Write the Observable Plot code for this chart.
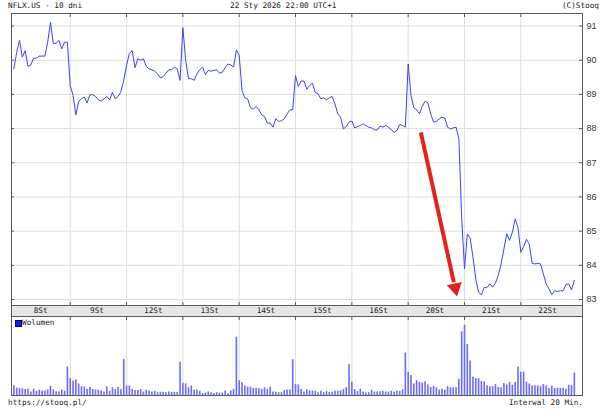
<!DOCTYPE html>
<html><head><meta charset="utf-8">
<script src="https://cdn.jsdelivr.net/npm/d3@7"></script>
<script src="https://cdn.jsdelivr.net/npm/@observablehq/plot@0.6"></script>
<style>
body{margin:0;background:#fff;}
#wrap{position:relative;width:605px;height:416px;background:#fff;overflow:hidden;font-family:"DejaVu Sans Mono",monospace;font-size:7.7px;color:#222;}
.t{position:absolute;white-space:nowrap;line-height:9px;}
.p{position:absolute;left:0;}
svg{display:block;overflow:visible;}
#sq{position:absolute;left:15px;top:320px;width:5px;height:5px;background:#1a1ae6;border:0.5px solid #000066;}
</style></head><body>
<div id="wrap">
  <div class="t" style="left:8px;top:1px">NFLX.US - 10 dni</div>
  <div class="t" style="left:230px;top:1px">22 Sty 2026 22:00 UTC+1</div>
  <div class="t" style="right:6px;top:1px">(C)Stooq</div>
  <div class="p" id="price" style="top:0px"></div>
  <div class="p" id="band" style="top:305px"></div>
  <div class="p" id="vol" style="top:316px"></div>
  <div id="sq"></div>
  <div class="t" style="left:22px;top:318px">Wolumen</div>
  <div class="t" style="left:8px;top:398px">https://stooq.pl/</div>
  <div class="t" style="right:22px;top:398px">Interwal 20 Min.</div>
</div>
<script>
const days = ["8St","9St","12St","13St","14St","15St","16St","20St","21St","22St"];
const barsPerDay = 20;
const priceTicks = [83,84,85,86,87,88,89,90,91];

const price = [
  89.75,90.23,90.58,90.09,90.28,89.82,89.86,90.06,90.06,90.12,90.12,90.12,90.53,91.11,90.48,90.50,90.58,90.33,90.53,90.53,
  89.26,88.97,88.40,88.80,88.87,88.92,88.75,88.99,88.99,88.94,88.84,88.80,88.87,88.94,88.84,89.06,88.87,88.94,89.08,89.41,
  89.84,90.20,90.28,89.78,90.04,90.00,90.04,89.82,89.75,89.72,89.68,89.60,89.48,89.52,89.62,89.72,89.72,89.80,89.75,89.41,
  90.95,89.99,89.46,89.46,89.41,89.60,89.72,89.80,89.58,89.70,89.68,89.70,89.72,89.62,89.65,89.78,89.89,89.86,89.80,90.30,
  90.14,89.11,88.90,88.87,88.61,88.57,88.65,88.55,88.40,88.35,88.16,88.16,88.04,88.29,88.21,88.23,88.28,88.43,88.55,88.55,
  89.55,89.23,89.39,89.39,89.15,89.26,89.33,89.06,89.02,88.87,88.90,88.84,88.90,88.94,88.72,88.43,88.33,87.99,88.06,88.19,
  88.22,88.02,88.06,88.09,88.14,88.09,88.04,88.02,87.96,87.96,88.07,88.04,88.09,88.04,87.97,87.89,87.94,88.12,88.09,88.04,
  89.89,88.97,88.61,88.55,88.43,88.65,88.80,88.75,88.43,88.19,88.21,88.28,88.33,88.31,88.04,87.99,88.02,88.04,87.70,85.40,
  83.90,84.92,84.80,84.24,83.60,83.21,83.14,83.35,83.35,83.46,83.36,83.48,83.71,84.04,84.48,84.92,84.73,84.97,85.36,85.10,
  84.38,84.55,84.76,84.62,84.06,84.04,84.06,84.04,83.75,83.46,83.31,83.14,83.26,83.23,83.26,83.25,83.44,83.46,83.28,83.56
];

const volume = [
  28,21,20,19,17,18,10,18,12,15,13,13,16,26,16,11,10,16,12,81,
  48,41,45,33,25,24,18,23,17,16,15,13,10,25,12,22,17,23,17,103,
  27,27,17,14,14,17,10,15,13,10,12,8,9,9,8,10,9,9,9,95,
  35,33,22,27,16,16,12,6,7,10,8,6,8,7,7,13,5,13,17,166,
  42,37,27,24,24,20,20,19,17,22,18,24,10,9,8,8,14,16,16,102,
  31,30,17,10,16,13,13,12,8,12,8,12,9,10,12,12,13,17,22,88,
  38,17,11,18,10,7,8,15,10,10,11,12,10,10,12,10,13,12,16,121,
  66,57,33,42,37,35,39,30,23,26,22,16,18,15,25,22,22,22,46,181,
  200,145,98,52,48,48,40,39,28,25,25,31,23,22,34,30,37,29,37,81,
  66,67,38,33,28,28,27,25,31,27,20,26,20,21,20,21,18,29,28,64
];

// red annotation arrow (bar index, price)
const arrowShaft = [{x1: 144.5, y1: 87.89, x2: 156.2, y2: 83.51}];
const arrowHead = [{x: 156.7, y: 83.34, angle: 167.6}];

const priceData = price.map((p, i) => ({i, p}));
const volData = volume.map((v, i) => ({i, v}));
const separators = d3.range(1, days.length).map(k => k * barsPerDay);
const dayLabels = days.map((d, k) => ({d, x: k * barsPerDay + 9.5}));

const xDomain = [-0.85, 201.9];
const font = {fontFamily: "'Liberation Sans', sans-serif", fontSize: "9px", background: "transparent", color: "#333"};
const common = {width: 605, marginLeft: 11, marginRight: 23};
const grid = "#dedede", frameC = "#5a5a5a";
const noText = () => "";

const pricePlot = Plot.plot({
  ...common, height: 305, marginTop: 13, marginBottom: 0,
  style: font,
  x: {domain: xDomain, label: null, axis: null},
  y: {domain: [82.825, 91.366], label: null, axis: null},
  marks: [
    Plot.gridX({ticks: separators, stroke: grid, strokeOpacity: 1}),
    Plot.gridY({ticks: priceTicks, stroke: grid, strokeOpacity: 1}),
    Plot.line(priceData, {x: "i", y: "p", stroke: "#4040ff", strokeWidth: 1}),
    Plot.link(arrowShaft, {x1: "x1", y1: "y1", x2: "x2", y2: "y2", stroke: "#e5211d", strokeWidth: 4}),
    Plot.dot(arrowHead, {x: "x", y: "y", symbol: "triangle2", r: 7.3, fill: "#e5211d", stroke: "none", rotate: "angle"}),
    Plot.frame({stroke: frameC}),
    Plot.axisY({ticks: priceTicks, anchor: "right", tickSize: 0, tickPadding: 4, label: null, fill: "#333"}),
    Plot.axisY({ticks: priceTicks, anchor: "right", tickSize: 4, dx: -4, tickFormat: noText, label: null, stroke: frameC}),
    Plot.axisY({ticks: priceTicks, anchor: "left", tickSize: 3, dx: 3, tickFormat: noText, label: null, stroke: frameC}),
    Plot.axisX({ticks: separators, anchor: "top", tickSize: 3, dy: 3, tickFormat: noText, label: null, stroke: frameC}),
    Plot.axisX({ticks: separators, anchor: "bottom", tickSize: 3, dy: -3, tickFormat: noText, label: null, stroke: frameC})
  ]
});
document.getElementById("price").appendChild(pricePlot);

const bandPlot = Plot.plot({
  ...common, height: 11, marginTop: 0, marginBottom: 0,
  style: {...font, fontFamily: "'DejaVu Sans Mono', monospace", fontSize: "7.7px"},
  x: {domain: xDomain, label: null, axis: null},
  marks: [
    Plot.frame({fill: "#e6e6e6", stroke: frameC}),
    Plot.text(dayLabels, {x: "x", text: "d", frameAnchor: "middle", fill: "#222"})
  ]
});
document.getElementById("band").appendChild(bandPlot);

const volPlot = Plot.plot({
  ...common, height: 80, marginTop: 0, marginBottom: 1,
  style: font,
  x: {domain: xDomain, label: null, axis: null},
  y: {domain: [0, 225], label: null, axis: null},
  marks: [
    Plot.gridX({ticks: separators, stroke: grid, strokeOpacity: 1}),
    Plot.ruleX(volData, {x: "i", y1: 0, y2: "v", stroke: "#6b6bff", strokeWidth: 1.6}),
    Plot.frame({stroke: frameC}),
    Plot.axisX({ticks: separators, anchor: "top", tickSize: 3, dy: 3, tickFormat: noText, label: null, stroke: frameC})
  ]
});
document.getElementById("vol").appendChild(volPlot);
</script>
</body></html>
